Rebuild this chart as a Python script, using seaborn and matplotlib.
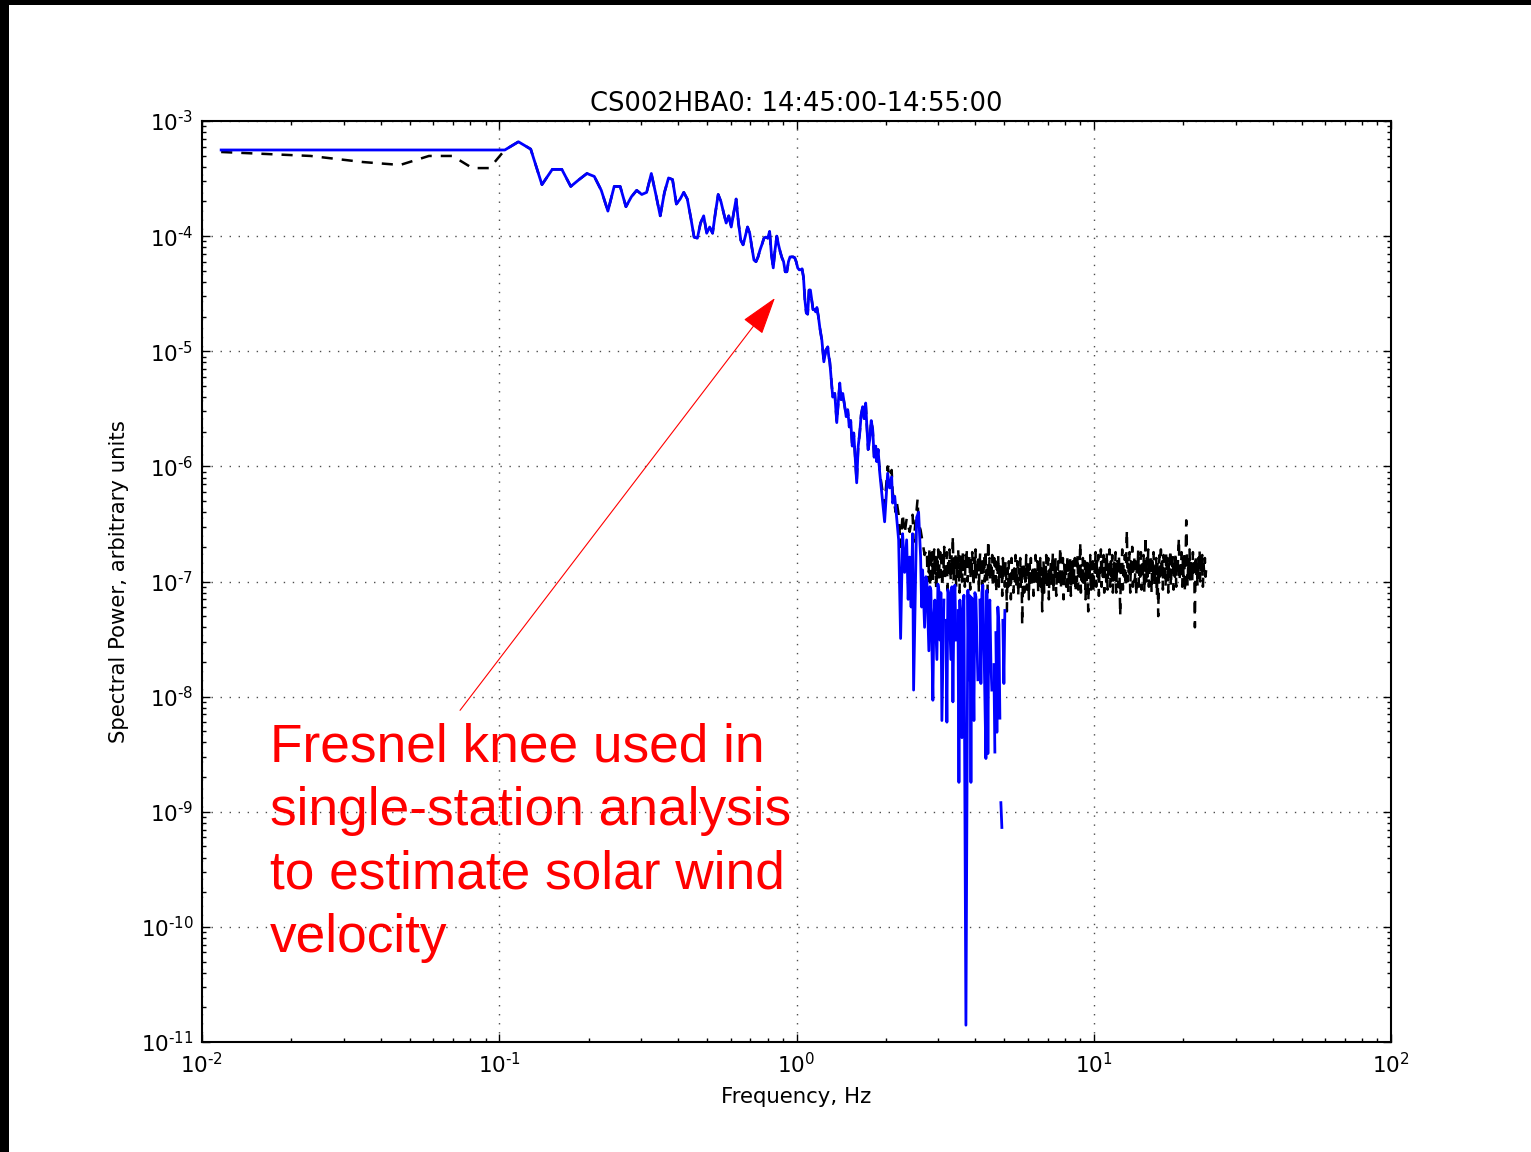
import numpy as np
import matplotlib
matplotlib.use("Agg")
import matplotlib.pyplot as plt
from matplotlib.patches import Rectangle
from matplotlib.ticker import FixedLocator, NullFormatter, FuncFormatter
import seaborn as sns

# ---------------- data ----------------
bin_width_hz = 0.0116
low_bins = np.arange(1, 101)          # FFT bins 1..100

blue_first_bins = [5.6e-4, 5.6e-4, 5.6e-4, 5.6e-4, 5.6e-4, 5.6e-4, 5.6e-4, 5.6e-4]
black_first_bins = [5.38e-4, 4.97e-4, 4.4e-4, 4.15e-4, 4.97e-4, 4.97e-4, 3.9e-4, 3.9e-4]

# bins 9..100: both spectra coincide (black hidden under blue)
shared_bins_power = [
    5.6e-4, 6.6e-4, 5.7e-4, 2.8e-4, 3.8e-4, 3.8e-4, 2.7e-4, 3.1e-4, 3.5e-4, 3.3e-4,
    2.5e-4, 1.65e-4, 2.7e-4, 2.7e-4, 1.8e-4, 2.2e-4, 2.5e-4, 2.3e-4, 2.4e-4, 3.5e-4,
    2.3e-4, 1.5e-4, 2.4e-4, 3.2e-4, 3.1e-4, 1.9e-4, 2.1e-4, 2.4e-4, 2.1e-4, 1.45e-4,
    9.8e-5, 9.6e-5, 1.3e-4, 1.5e-4, 1.06e-4, 1.2e-4, 1.06e-4, 1.6e-4, 2.3e-4, 2.0e-4,
    1.6e-4, 1.3e-4, 1.5e-4, 1.2e-4, 1.6e-4, 2.1e-4, 1.3e-4, 9.2e-5, 8.4e-5, 1.0e-4,
    1.2e-4, 1.06e-4, 8.0e-5, 6.2e-5, 6.0e-5, 6.6e-5, 7.6e-5, 8.5e-5, 9.6e-5, 9.8e-5,
    9.6e-5, 1.1e-4, 6.9e-5, 5.3e-5, 7.6e-5, 1.0e-4, 8.4e-5, 7.3e-5, 6.5e-5, 6.0e-5,
    4.9e-5, 4.9e-5, 6.0e-5, 6.6e-5, 6.6e-5, 6.6e-5, 6.5e-5, 6.0e-5, 5.3e-5, 5.1e-5,
    5.1e-5, 5.2e-5, 4.4e-5, 2.8e-5, 2.15e-5, 2.1e-5, 3.4e-5, 3.4e-5, 2.8e-5, 2.3e-5,
    2.3e-5, 2.2e-5,
]

# 1.17 - 1.9 Hz, both spectra coincide
shared_knee_freq = [1.171, 1.185, 1.198, 1.217, 1.236, 1.255, 1.274, 1.284, 1.294, 1.310,
                    1.324, 1.345, 1.366, 1.382, 1.398, 1.414, 1.431, 1.453, 1.470, 1.487,
                    1.505, 1.522, 1.540, 1.558, 1.594, 1.613, 1.632, 1.650, 1.670, 1.690,
                    1.709, 1.722, 1.742, 1.763, 1.784, 1.804, 1.825, 1.847, 1.861, 1.882,
                    1.904]
shared_knee_power = [2.4e-5, 2.0e-5, 1.6e-5, 1.25e-5, 8.1e-6, 1.02e-5, 1.09e-5, 9.0e-6, 8.1e-6, 5.5e-6,
                     4.0e-6, 4.3e-6, 2.4e-6, 3.6e-6, 5.3e-6, 3.8e-6, 4.3e-6, 3.3e-6, 2.7e-6, 3.1e-6,
                     2.2e-6, 2.5e-6, 1.5e-6, 1.95e-6, 7.2e-7, 1.5e-6, 1.95e-6, 2.8e-6, 3.3e-6, 2.6e-6,
                     3.55e-6, 2.4e-6, 1.4e-6, 1.7e-6, 2.5e-6, 2.1e-6, 1.2e-6, 1.5e-6, 1.1e-6, 1.4e-6,
                     9.0e-7]

# blue (noise-subtracted) spectrum above 1.9 Hz; nan = negative values (not drawn)
nan = np.nan
blue_tail_freq = [1.979, 2.026, 2.058, 2.090, 2.106, 2.140, 2.172, 2.206, 2.240, 2.275,
                  2.311, 2.347, 2.375, 2.402, 2.430, 2.458, 2.477, 2.516, 2.536, 2.575,
                  2.615, 2.636, 2.656, 2.697, 2.724,
                  2.745, 2.788, 2.810, 2.832, 2.876, 2.898, 2.921, 2.967, 2.990, 3.013,
                  3.037, 3.060, 3.084, 3.133, 3.157, 3.181, 3.206, 3.230, 3.256, 3.307,
                  3.333, 3.359, 3.385, 3.411, 3.438, 3.465, 3.492, 3.519, 3.546, 3.574,
                  3.602, 3.630, 3.658, 3.715, 3.773, 3.803, 3.833, 3.862, 3.890, 3.921,
                  3.952, 3.982, 4.013, 4.076, 4.108, 4.140, 4.172, 4.204, 4.236, 4.270,
                  4.337, 4.370, 4.404, 4.438, 4.472, 4.507, 4.542, 4.578, 4.613, 4.649,
                  4.667, 4.685, 4.722, 4.758, 4.795, 4.833, 4.850, 4.870, 4.908, 4.927,
                  4.946, 4.985, 5.023]
blue_tail_power = [3.3e-7, 8.7e-7, 6.5e-7, 8.1e-7, 4.8e-7, 5.5e-7, 3.6e-7, 2.3e-7, 3.2e-8, 2.6e-7,
                   1.2e-7, 2.3e-7, 7.0e-8, 1.63e-7, 6.0e-8, 2.6e-7, 1.14e-8, 1.2e-7, 3.6e-7, 4.0e-7,
                   1.63e-7, 6.0e-8, 1.26e-7, 4.0e-8, 1.1e-7,
                   1.03e-7, 2.5e-8, 9.0e-8, 8.4e-8, 9.3e-9, 5.0e-8, 6.9e-8, 2.1e-8, 9.5e-8, 8.4e-8,
                   3.1e-8, 8.0e-8, 6.2e-9, 6.9e-8, nan, 4.6e-8, 6.0e-9, 8.5e-8, 7.6e-8, 2.1e-8,
                   9.0e-8, 9.0e-9, 6.0e-8, 9.3e-8, 3.1e-8, nan, 5.6e-8, 1.8e-9, 6.9e-8, 2.5e-8,
                   4.4e-9, 5.5e-8, 7.6e-8, 1.4e-11, 8.4e-8, 1.4e-8, 7.5e-8, 1.8e-9, 7.2e-8, 3.0e-8,
                   6.2e-9, 8.0e-8, 7.4e-8, 1.4e-8, nan, 6.9e-8, 1.3e-8, 8.0e-8, 9.3e-8, 3.1e-8,
                   2.9e-9, 8.4e-8, 3.2e-9, 6.0e-8, 6.9e-8, 2.0e-8, 1.14e-8, nan, 1.9e-8, 3.3e-9,
                   nan, 3.6e-8, 4.9e-9, 6.0e-8, 4.2e-8, 6.5e-9, nan, 1.2e-9, 7.3e-10, nan,
                   4.6e-8, 1.3e-8, 5.6e-8]

# black (raw) spectrum above 1.9 Hz: transition into the noise floor
black_tail_freq = [1.979, 2.026, 2.058, 2.090, 2.106, 2.155, 2.172, 2.206, 2.240, 2.275,
                   2.311, 2.347, 2.402, 2.458, 2.477, 2.536, 2.555, 2.575, 2.615, 2.656, 2.697]
black_tail_power = [4.6e-7, 1.0e-6, 8.0e-7, 9.3e-7, 6.0e-7, 4.0e-7, 5.0e-7, 3.8e-7, 2.0e-7, 3.9e-7,
                    2.6e-7, 3.5e-7, 2.7e-7, 3.8e-7, 2.2e-7, 4.2e-7, 5.2e-7, 3.2e-7, 2.8e-7, 2.2e-7, 1.7e-7]

# black noise floor 2.75 - 23.9 Hz, in units of 1e-7
noise_band_start_hz = 2.745
noise_band_stop_hz = 23.9
black_band_e7 = [
    1.9, 1.0, 1.7, 1.2, 2.0, 0.9, 1.6, 1.3, 1.8, 1.0,
    1.5, 1.9, 1.1, 1.7, 0.85, 1.6, 1.2, 1.9, 1.0, 1.5,
    1.8, 1.1, 1.6, 0.9, 1.7, 1.3, 2.0, 1.0, 1.5, 1.2,
    1.8, 0.85, 1.6, 1.1, 1.9, 1.3, 1.0, 1.7, 1.2, 2.5,
    1.0, 1.6, 1.2, 1.8, 0.9, 1.5, 1.1, 1.9, 1.3, 0.8,
    1.7, 1.1, 1.6, 1.0, 1.8, 1.2, 1.5, 0.9, 1.7, 1.3,
    1.9, 1.0, 1.5, 1.2, 1.7, 0.85, 1.6, 1.1, 1.8, 1.3,
    0.9, 1.6, 1.2, 1.9, 1.0, 1.5, 1.3, 1.7, 0.8, 1.4,
    1.8, 1.1, 1.6, 0.9, 1.5, 1.2, 1.7, 1.0, 1.9, 1.1,
    1.4, 0.8, 2.3, 1.1, 1.6, 1.0, 1.5, 1.2, 1.7, 0.9,
    1.3, 1.6, 1.0, 1.5, 0.8, 1.4, 1.1, 1.7, 0.9, 1.3,
    1.5, 1.0, 1.4, 0.75, 1.6, 1.1, 1.3, 0.9, 1.5, 1.2,
    0.55, 1.3, 0.9, 1.5, 1.0, 1.2, 0.7, 1.6, 1.1, 1.4,
    0.8, 1.3, 1.0, 1.7, 0.9, 1.2, 1.5, 0.75, 1.3, 1.0,
    1.6, 0.9, 1.4, 0.42, 1.1, 1.5, 0.8, 1.3, 1.0, 1.7,
    0.85, 1.2, 1.5, 0.7, 1.4, 1.0, 1.6, 0.9, 1.2, 1.4,
    0.75, 1.3, 1.1, 1.7, 0.9, 1.2, 1.5, 0.8, 1.4, 1.0,
    1.6, 0.9, 1.3, 0.55, 1.2, 1.5, 0.8, 1.4, 1.0, 1.7,
    0.85, 1.2, 1.6, 0.7, 1.3, 1.0, 1.5, 0.9, 1.2, 1.8,
    0.8, 1.4, 1.1, 1.6, 0.75, 1.3, 1.0, 1.5, 0.9, 1.2,
    2.0, 0.85, 1.3, 1.1, 1.6, 0.7, 1.4, 1.0, 1.5, 0.9,
    1.2, 1.7, 0.8, 1.3, 1.0, 1.6, 0.75, 1.4, 1.1, 1.5,
    0.9, 1.3, 1.6, 0.8, 1.2, 1.0, 1.7, 0.85, 1.4, 1.1,
    2.2, 0.8, 1.3, 1.0, 1.6, 0.9, 1.2, 1.5, 0.7, 1.4,
    1.0, 1.6, 0.55, 1.3, 1.1, 1.7, 0.8, 1.4, 1.0, 1.5,
    0.8, 1.4, 1.2, 1.8, 0.9, 1.5, 1.1, 1.7, 0.75, 1.4,
    1.2, 1.9, 0.9, 1.5, 1.1, 1.7, 0.8, 1.3, 1.6, 1.0,
    1.8, 0.85, 1.4, 1.2, 1.9, 0.9, 1.5, 1.1, 1.7, 0.8,
    1.4, 1.6, 1.0, 1.8, 0.8, 1.3, 1.5, 0.9, 1.7, 1.1,
    0.5, 1.5, 1.2, 1.9, 0.85, 1.4, 1.1, 1.7, 0.9, 1.6,
    2.8, 1.0, 1.4, 1.2, 1.8, 0.8, 1.5, 1.1, 2.0, 0.9,
    1.3, 1.7, 1.0, 1.5, 0.75, 1.6, 1.2, 1.9, 0.9, 1.4,
    1.1, 1.8, 0.85, 1.5, 1.2, 1.7, 0.8, 1.4, 2.5, 1.0,
    1.6, 1.1, 1.9, 0.9, 1.4, 1.2, 1.7, 0.8, 1.5, 1.1,
    1.8, 0.9, 1.4, 1.2, 1.6, 0.75, 1.5, 0.5, 1.3, 1.7,
    1.0, 1.9, 1.2, 1.5, 0.85, 1.7, 1.1, 1.4, 0.9, 1.8,
    1.2, 1.6, 0.8, 1.5, 1.1, 1.9, 0.9, 1.4, 1.3, 1.7,
    0.85, 1.5, 1.1, 1.8, 0.9, 1.4, 1.2, 1.7, 2.4, 1.0,
    1.5, 1.2, 1.8, 0.9, 1.6, 1.1, 1.8, 0.8, 1.4, 3.4,
    1.7, 0.9, 1.5, 1.1, 1.9, 1.0, 1.3, 1.6, 1.0, 1.8,
    1.2, 1.5, 0.4, 1.7, 1.1, 1.4, 0.9, 1.6, 1.2, 1.9,
    1.0, 1.5, 1.3, 1.7, 0.9, 1.4, 1.2, 1.6, 1.1, 1.3,
]

title_text = "CS002HBA0: 14:45:00-14:55:00"
xlabel_text = "Frequency, Hz"
ylabel_text = "Spectral Power, arbitrary units"
note_text = "Fresnel knee used in\nsingle-station analysis\nto estimate solar wind\nvelocity"
arrow_tip = (0.846, 2.9e-5)
arrow_tail = (0.0738, 7.6e-9)
x_decades = np.arange(-2, 3)
y_decades = np.arange(-11, -2)

# ---------------- assemble series ----------------
low_freq = low_bins * bin_width_hz
band_freq = np.geomspace(noise_band_start_hz, noise_band_stop_hz, len(black_band_e7))

blue_freq = np.concatenate([low_freq, shared_knee_freq, blue_tail_freq])
blue_power = np.concatenate([blue_first_bins, shared_bins_power, shared_knee_power, blue_tail_power])

black_freq = np.concatenate([low_freq, shared_knee_freq, black_tail_freq, band_freq])
black_power = np.concatenate([black_first_bins, shared_bins_power, shared_knee_power,
                              black_tail_power, np.array(black_band_e7) * 1e-7])

# ---------------- figure ----------------
plt.rcParams["lines.scale_dashes"] = False
plt.rcParams["font.family"] = ["DejaVu Sans"]
plt.rcParams["mathtext.fontset"] = "dejavusans"

W, H = 1531, 1152
fig = plt.figure(figsize=(W / 100, H / 100), dpi=100)
ax = fig.add_axes([202 / W, 1 - 1042 / H, 1189 / W, 921 / H])
ax.set_xscale("log")
ax.set_yscale("log")


def draw(freq, power, **kw):
    freq = np.asarray(freq, float)
    power = np.asarray(power, float)
    stops = list(np.flatnonzero(np.isnan(power))) + [len(power)]
    start = 0
    for stop in stops:
        if stop - start >= 2:
            sns.lineplot(x=freq[start:stop], y=power[start:stop], ax=ax,
                         estimator=None, sort=False, legend=False, **kw)
        start = stop + 1


draw(black_freq, black_power, color="black", linewidth=1.8,
     linestyle=(0, (8.0, 6.5)), zorder=2)
draw(blue_freq, blue_power, color="#0000ff", linewidth=2.0, zorder=3)

ax.set_xlim(1e-2, 1e2)
ax.set_ylim(1e-11, 1e-3)


def decade_label(v, pos):
    e = int(round(np.log10(v)))
    if e < 0:
        return r"$10^{\text{-}%d}$" % (-e)
    return r"$10^{%d}$" % e


ax.xaxis.set_major_locator(FixedLocator(10.0 ** x_decades))
ax.yaxis.set_major_locator(FixedLocator(10.0 ** y_decades))
ax.xaxis.set_minor_locator(FixedLocator([m * 10.0 ** e for e in x_decades[:-1] for m in range(2, 10)]))
ax.yaxis.set_minor_locator(FixedLocator([m * 10.0 ** e for e in y_decades[:-1] for m in range(2, 10)]))
ax.xaxis.set_major_formatter(FuncFormatter(decade_label))
ax.yaxis.set_major_formatter(FuncFormatter(decade_label))
ax.xaxis.set_minor_formatter(NullFormatter())
ax.yaxis.set_minor_formatter(NullFormatter())

ax.grid(True, which="major", color="0.3", linestyle=(0, (1.0, 5.5)), linewidth=1.0)
ax.tick_params(which="both", direction="in", top=True, right=True, width=1.0, colors="black")
ax.tick_params(which="major", length=6)
ax.tick_params(which="minor", length=3)
ax.tick_params(axis="both", labelsize=15.5)
ax.tick_params(axis="x", pad=7.5)
ax.tick_params(axis="y", pad=6)
for sp in ax.spines.values():
    sp.set_linewidth(1.5)
    sp.set_color("black")

ax.set_title(title_text, fontsize=18.5, pad=7)
ax.set_xlabel(xlabel_text, fontsize=15.3, labelpad=7)
ax.set_ylabel(ylabel_text, fontsize=15.3, labelpad=8)

ax.annotate("", xy=arrow_tip, xytext=arrow_tail,
            arrowprops=dict(arrowstyle="-|>,head_length=2.4,head_width=0.76",
                            color="#ff0000", lw=0.8, shrinkA=0, shrinkB=0,
                            mutation_scale=10))
ax.text(0.0572, 0.3464, note_text, transform=ax.transAxes, color="#ff0000",
        fontsize=38.3, family=["Liberation Sans", "DejaVu Sans"], va="top", ha="left",
        linespacing=1.34, zorder=5)

# black frame strips at the top and left of the screenshot
fig.add_artist(Rectangle((0, 0), 9 / W, 1, transform=fig.transFigure,
                         facecolor="black", edgecolor="none", zorder=10))
fig.add_artist(Rectangle((0, 1 - 5 / H), 1, 5 / H, transform=fig.transFigure,
                         facecolor="black", edgecolor="none", zorder=10))

fig.savefig("out.png", dpi=100)
